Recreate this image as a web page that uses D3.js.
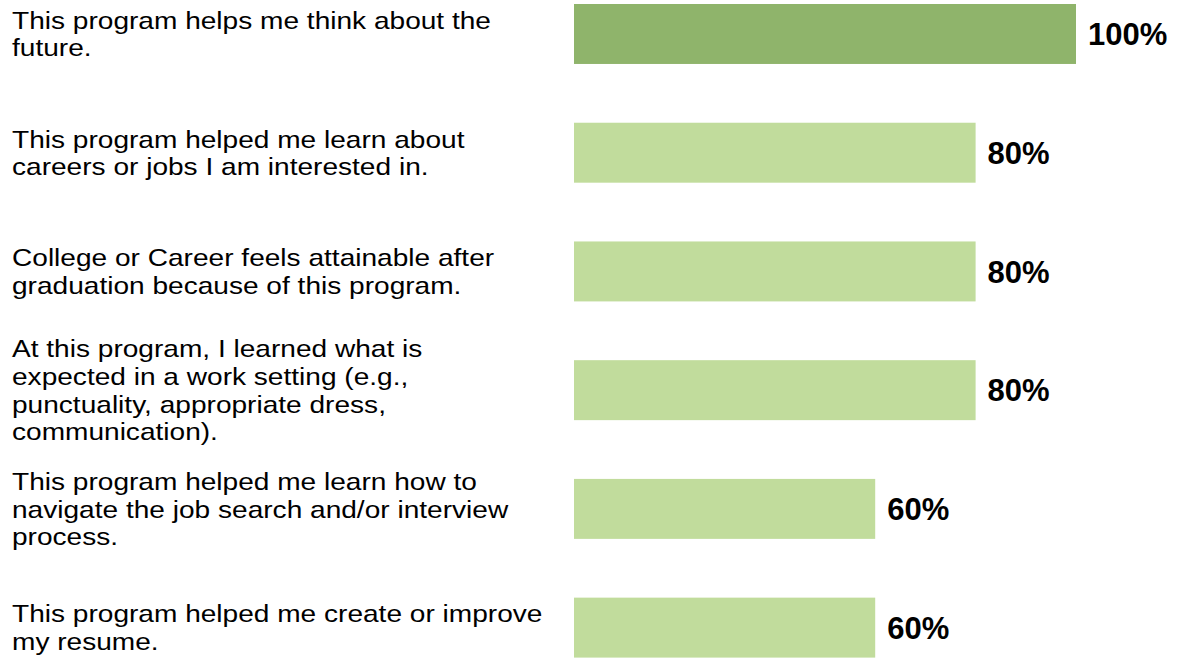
<!DOCTYPE html>
<html>
<head>
<meta charset="utf-8">
<script src="https://cdn.jsdelivr.net/npm/d3@7"></script>
<style>
  html, body { margin: 0; padding: 0; background: #fff; }
  svg { display: block; }
</style>
</head>
<body>
<svg id="chart" width="1177" height="658"></svg>
<script>
// Survey statements (line breaks as laid out) and share of agreement
const categories = [
  "This program helps me think about the\nfuture.",
  "This program helped me learn about\ncareers or jobs I am interested in.",
  "College or Career feels attainable after\ngraduation because of this program.",
  "At this program, I learned what is\nexpected in a work setting (e.g.,\npunctuality, appropriate dress,\ncommunication).",
  "This program helped me learn how to\nnavigate the job search and/or interview\nprocess.",
  "This program helped me create or improve\nmy resume."
];
const values = [100, 80, 80, 80, 60, 60];
const valueLabels = ["100%", "80%", "80%", "80%", "60%", "60%"];

const W = 1177, H = 658;
const svg = d3.select("#chart");

const x = d3.scaleLinear().domain([0, 100]).range([574, 1076]);
const y = d3.scaleBand()
  .domain(d3.range(categories.length))
  .range([4, 657.6])
  .paddingInner(0.495)
  .paddingOuter(0);

const labelFont = 24;
const labelStretch = 1.17;   // statement text is set slightly expanded
const lineH = 27.6;
const valueFont = 31;
const labelX = 12;

// bars
svg.selectAll("rect.bar")
  .data(values)
  .join("rect")
  .attr("class", "bar")
  .attr("x", x(0))
  .attr("y", (d, i) => y(i))
  .attr("width", d => x(d) - x(0))
  .attr("height", y.bandwidth())
  .attr("fill", (d, i) => i === 0 ? "#8fb46b" : "#c1dc9c");

// value labels
svg.selectAll("text.value")
  .data(values)
  .join("text")
  .attr("class", "value")
  .attr("x", d => x(d) + 12)
  .attr("y", (d, i) => y(i) + y.bandwidth() / 2 + valueFont * 0.36)
  .attr("font-family", "'Liberation Sans', Arial, sans-serif")
  .attr("font-weight", "bold")
  .attr("font-size", valueFont)
  .attr("fill", "#000")
  .text((d, i) => valueLabels[i]);

// category labels
const lab = svg.selectAll("text.cat")
  .data(categories)
  .join("text")
  .attr("class", "cat")
  .attr("transform", `translate(${labelX},0) scale(${labelStretch},1)`)
  .attr("font-family", "'Liberation Sans', Arial, sans-serif")
  .attr("font-size", labelFont)
  .attr("fill", "#000");

lab.each(function (d, i) {
  const lines = d.split("\n");
  const cy = y(i) + y.bandwidth() / 2;
  const firstBase = cy - (lines.length - 1) * lineH / 2 + labelFont * 0.36;
  d3.select(this).selectAll("tspan")
    .data(lines)
    .join("tspan")
    .attr("x", 0)
    .attr("y", (l, j) => firstBase + j * lineH)
    .text(l => l);
});
</script>
</body>
</html>
